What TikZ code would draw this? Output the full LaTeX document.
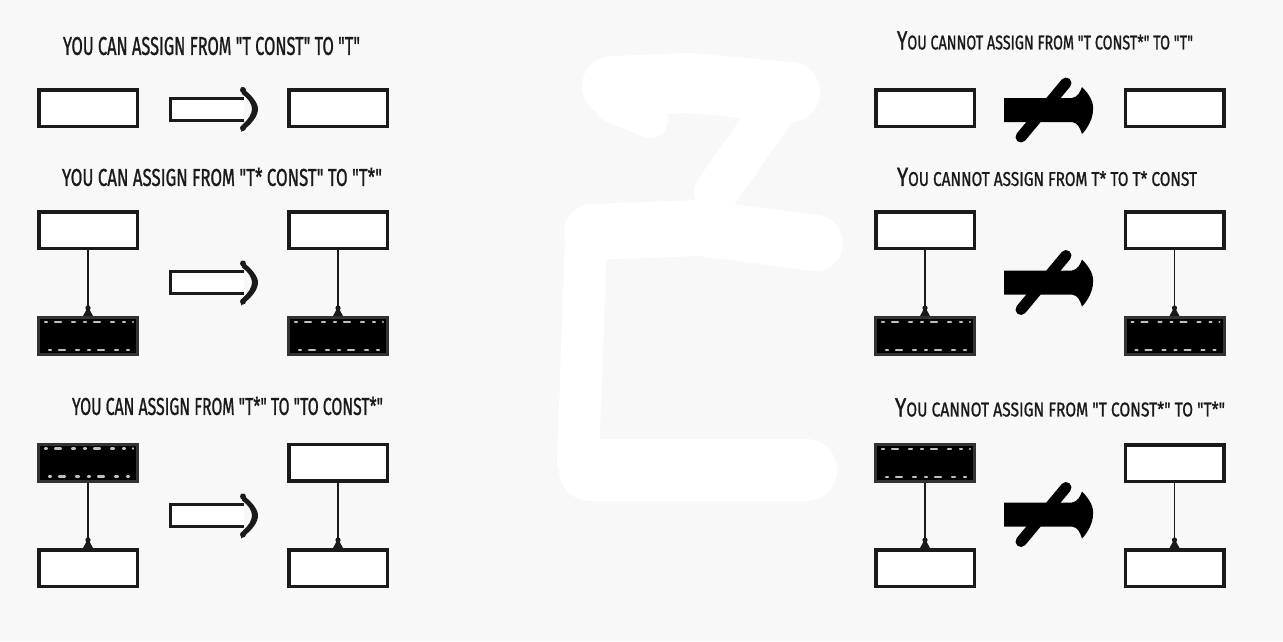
\documentclass[tikz,border=0pt]{standalone}
\usepackage{fontspec}
\usepackage{graphicx}
\newfontfamily\hand[FakeBold=1.3]{Fira Sans}
\usetikzlibrary{calc}
\definecolor{bg}{HTML}{F8F8F8}
\definecolor{ink}{HTML}{1A1A1A}
\newcommand{\ttl}[2]{\resizebox{#1pt}{18pt}{\hand\fontsize{25}{25}\selectfont #2}}
\newcommand{\rst}[1]{{\fontsize{19}{19}\selectfont #1}}
\tikzset{
  box/.style={draw=ink, line width=3.5pt, fill=white, minimum width=98.5pt, minimum height=36.5pt, inner sep=0pt, shape=rectangle},
  fbox/.style={draw=black!80, line width=3pt, fill=black, minimum width=99pt, minimum height=37pt, inner sep=0pt, shape=rectangle},
  spot/.style={white!75!black, line width=2.2pt, dash pattern=on 2pt off 8pt on 6pt off 11pt on 3pt off 9pt, line cap=round},
  conn/.style={draw=ink, line width=1.7pt},
  title/.style={inner sep=0pt, text=ink},
  blob/.style={white, line cap=round, line join=round},
  goodarrow/.pic={
    \draw[line width=3pt, draw=ink, fill=white] (74,-11) -- (0,-11) -- (0,11) -- (74,11);
    \fill[ink] (71,-22) .. controls (82,-14) and (88,-6) .. (88,0) .. controls (88,7) and (82,15) .. (71,23)
      -- (72,16) .. controls (78,11) and (82,5) .. (82,0) .. controls (82,-5) and (78,-11) .. (72,-15) -- cycle;
    \fill[ink] (73,-19) circle (3);
    \fill[ink] (73,19) circle (3);
  },
  badarrow/.pic={
    \fill[black] (0,-12) -- (68,-12) .. controls (74,-13) and (76,-18) .. (78,-23)
      .. controls (86,-15) and (90,-7) .. (89,0) .. controls (89,8) and (84,18) .. (78,24)
      .. controls (76,18) and (74,13) .. (68,12) -- (0,12) -- cycle;
    \draw[black, line width=11pt, line cap=round] (62,-27) -- (17,27);
  }
}
\newcommand{\spots}[1]{%
  \draw[spot] ($(#1.north west)+(8,6)$) -- ($(#1.north east)+(-6,6)$);
  \draw[spot] ($(#1.south west)+(12,-6)$) -- ($(#1.south east)+(-6,-6)$);}
\newcommand{\joint}[1]{\fill[ink] ($(#1.north)+(0,-8)$) circle (2.6);
  \fill[ink] ($(#1.north)+(-5,0)$) -- ($(#1.north)+(5,0)$) -- ($(#1.north)+(1.2,-7)$) -- ($(#1.north)+(-1.2,-7)$) -- cycle;}
\begin{document}
\begin{tikzpicture}[x=1pt,y=-1pt]
\fill[bg] (0,0) rectangle (1283,641);
\useasboundingbox (0,0) rectangle (1283,641);
% background white brush shape
\draw[blob, line width=60pt] (612,86) -- (690,83) -- (790,92);
\draw[blob, line width=36pt] (612,104) -- (650,120);
\draw[blob, line width=44pt] (778,104) -- (716,192);
\draw[blob, line width=56pt] (592,232) -- (700,228) -- (815,243);
\draw[blob, line width=42pt] (586,240) -- (578,462);
\draw[blob, line width=62pt] (590,470) -- (700,470) -- (806,470);
% ---------- titles ----------
\node[title] (t1) at (211.5,46) {\ttl{297}{YOU CAN ASSIGN FROM "T CONST" TO "T"}};
\node[title] (t2) at (222,177) {\ttl{320}{YOU CAN ASSIGN FROM "T* CONST" TO "T*"}};
\node[title] (t3) at (227.5,406) {\ttl{311}{YOU CAN ASSIGN FROM "T*" TO "TO CONST*"}};
\node[title] (t4) at (1045,40.5) {\ttl{296}{Y\rst{OU CANNOT ASSIGN FROM "T CONST*" TO "T"}}};
\node[title] (t5) at (1047,177) {\ttl{300}{Y\rst{OU CANNOT ASSIGN FROM T* TO T* CONST}}};
\node[title] (t6) at (1060,407.5) {\ttl{330}{Y\rst{OU CANNOT ASSIGN FROM "T CONST*" TO "T*"}}};
% ---------- left column ----------
\node[box] (a1) at (88,108) {};
\node[box] (a2) at (338,108) {};
\pic at (170,109) {goodarrow};
\node[box] (b1) at (88,230) {};
\node[fbox] (b2) at (88,336) {};
\node[box] (b3) at (338,230) {};
\node[fbox] (b4) at (338,336) {};
\spots{b2}\spots{b4}
\draw[conn] (b1) -- (b2); \joint{b2}
\draw[conn] (b3) -- (b4); \joint{b4}
\pic at (170,282.5) {goodarrow};
\node[fbox] (c1) at (88,462.5) {};
\node[box] (c2) at (88,568) {};
\node[box] (c3) at (338,462.5) {};
\node[box] (c4) at (338,568) {};
\spots{c1}
\draw[conn] (c1) -- (c2); \joint{c2}
\draw[conn] (c3) -- (c4); \joint{c4}
\pic at (170,515.5) {goodarrow};
% ---------- right column ----------
\node[box] (d1) at (925,108) {};
\node[box] (d2) at (1174.5,108) {};
\pic at (1004,110) {badarrow};
\node[box] (e1) at (925,230) {};
\node[fbox] (e2) at (925,336) {};
\node[box] (e3) at (1174.5,230) {};
\node[fbox] (e4) at (1174.5,336) {};
\spots{e2}\spots{e4}
\draw[conn] (e1) -- (e2); \joint{e2}
\draw[conn] (e3) -- (e4); \joint{e4}
\pic at (1004,282.5) {badarrow};
\node[fbox] (f1) at (925,463) {};
\node[box] (f2) at (925,568) {};
\node[box] (f3) at (1174.5,463) {};
\node[box] (f4) at (1174.5,568) {};
\spots{f1}
\draw[conn] (f1) -- (f2); \joint{f2}
\draw[conn] (f3) -- (f4); \joint{f4}
\pic at (1004,514.5) {badarrow};
\end{tikzpicture}
\end{document}
